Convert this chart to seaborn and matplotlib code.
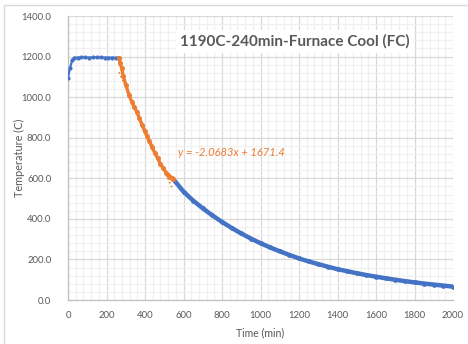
import numpy as np
import pandas as pd
import matplotlib
matplotlib.use("Agg")
import matplotlib.pyplot as plt
from matplotlib.ticker import MultipleLocator, FormatStrFormatter
from matplotlib.patches import Rectangle
import seaborn as sns

# ---------------- data ----------------
hold_time = [0, 10, 22, 33, 50, 70, 90, 110, 130, 150, 170, 190, 210, 230, 250, 265]
hold_temp = [1095, 1142, 1182, 1195, 1195, 1196, 1196, 1195, 1196, 1197, 1196, 1195, 1195, 1195, 1194, 1195]

fit_time = [265, 270, 279, 287, 300, 317, 331, 345, 357, 370, 385, 398, 409, 422,
            437, 452, 466, 480, 495, 510, 520, 530, 540, 545]
fit_temp = [1195, 1170, 1142, 1104, 1062, 1010, 977, 950, 928, 897, 862, 833, 808, 784,
            752, 723, 698, 672, 649, 628, 617, 608, 602, 598]

tail_time = [545, 600, 650, 700, 750, 800, 850, 900, 950, 1000, 1050, 1100, 1150, 1200,
             1250, 1300, 1350, 1400, 1450, 1500, 1550, 1600, 1650, 1700, 1750, 1800,
             1850, 1900, 1950, 2000]
tail_temp = [598, 534, 490, 452, 417, 385, 355, 328, 303, 280, 259, 240, 222, 205,
             190, 177, 164, 152, 142, 132, 123, 115, 107, 100, 93, 87, 81, 76, 71, 66]

trend_slope = -2.0683
trend_intercept = 1671.4

title_text = "1190C-240min-Furnace Cool (FC)"
equation_text = "y = -2.0683x + 1671.4"
x_label = "Time (min)"
y_label = "Temperature (C)"

BLUE = "#4472C4"
ORANGE = "#ED7D31"
TXT = "#595959"

sns.set_style("white")
plt.rcParams["font.family"] = ["Lato", "DejaVu Sans"]

fig = plt.figure(figsize=(4.68, 3.44), dpi=100)
ax = fig.add_axes([68 / 468, 1 - 300 / 344, (453 - 68) / 468, (300 - 16) / 344])

blue_df = pd.concat([
    pd.DataFrame({"t": hold_time, "T": hold_temp, "seg": "a"}),
    pd.DataFrame({"t": tail_time, "T": tail_temp, "seg": "b"}),
])
for seg, d in blue_df.groupby("seg"):
    sns.lineplot(data=d, x="t", y="T", ax=ax, color=BLUE, lw=3.2 if seg == "b" else 1.6,
                 sort=False, marker="o", markersize=3 if seg == "a" else 3.4,
                 markeredgewidth=0, estimator=None, zorder=3)

orange_df = pd.DataFrame({"t": fit_time, "T": fit_temp})
sns.lineplot(data=orange_df, x="t", y="T", ax=ax, color=ORANGE, lw=2.4, sort=False,
             marker="o", markersize=3.6, markeredgewidth=0, estimator=None, zorder=4)

tx = np.array([min(fit_time), max(fit_time)])
trend_df = pd.DataFrame({"t": tx, "T": trend_slope * tx + trend_intercept})
sns.lineplot(data=trend_df, x="t", y="T", ax=ax, color=ORANGE, lw=1.2,
             linestyle=(0, (1, 1.5)), estimator=None, zorder=2.5)

ax.set_xlim(0, 2000)
ax.set_ylim(0, 1400)
ax.xaxis.set_major_locator(MultipleLocator(200))
ax.xaxis.set_minor_locator(MultipleLocator(40))
ax.yaxis.set_major_locator(MultipleLocator(200))
ax.yaxis.set_minor_locator(MultipleLocator(40))
ax.yaxis.set_major_formatter(FormatStrFormatter("%.1f"))

ax.grid(which="major", color="#D9D9D9", lw=0.9, zorder=0)
ax.grid(which="minor", color="#F0F0F0", lw=0.9, zorder=0)
ax.set_axisbelow(True)

for s in ["top", "right"]:
    ax.spines[s].set_visible(False)
for s in ["left", "bottom"]:
    ax.spines[s].set_color("#BFBFBF")
    ax.spines[s].set_linewidth(0.9)

ax.tick_params(axis="both", which="major", length=3, width=0.9, color="#BFBFBF",
               labelsize=6.9, labelcolor=TXT, direction="out")
ax.tick_params(axis="y", which="major", pad=9)
ax.tick_params(axis="x", which="major", pad=5)
ax.tick_params(axis="both", which="minor", length=0)

ax.set_xlabel(x_label, fontsize=7.6, color=TXT, labelpad=5)
ax.set_ylabel(y_label, fontsize=7.8, color=TXT)
ax.yaxis.set_label_coords(-0.112, 0.5)

ax.text(0.59, 0.91, title_text, transform=ax.transAxes, ha="center", va="center",
        fontsize=11, fontweight="bold", color=TXT, zorder=6,
        bbox=dict(facecolor="white", edgecolor="none", pad=3))
ax.text(0.285, 0.521, equation_text, transform=ax.transAxes, ha="left", va="center",
        fontsize=8, style="italic", color=ORANGE, zorder=6)

fig.patches.append(Rectangle((4 / 468, -0.1), 1.2, 1 - 5 / 344 + 0.1,
                             transform=fig.transFigure, fill=False,
                             edgecolor="#D9D9D9", lw=1.0))

fig.savefig("out.png", dpi=100)
